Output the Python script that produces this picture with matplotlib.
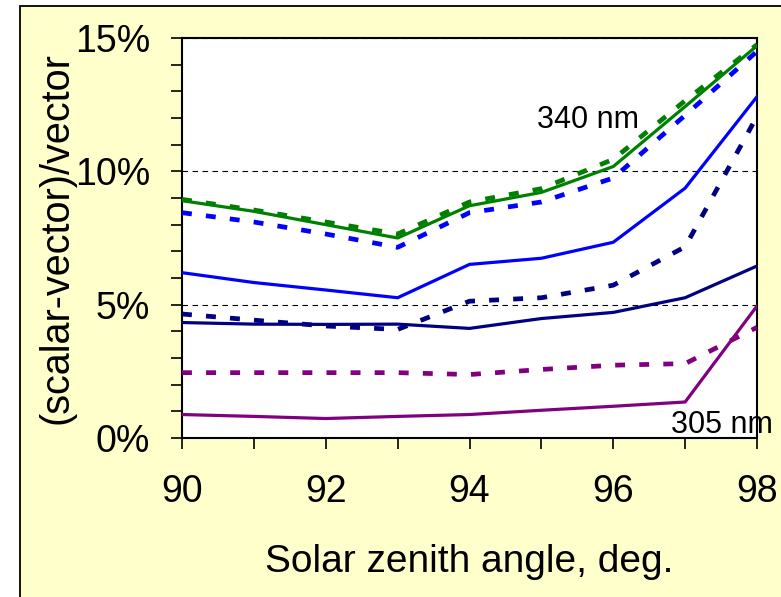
import matplotlib
matplotlib.use('Agg')
import matplotlib.pyplot as plt
from matplotlib.patches import Rectangle

plt.rcParams['font.family'] = ['Liberation Sans', 'DejaVu Sans']

# solar zenith angle (deg)
sza = [90, 91, 92, 93, 94, 95, 96, 97, 98]

# (scalar-vector)/vector in %, solid and dotted curve for each wavelength
green_solid = [8.9, 8.5, 8.0, 7.5, 8.71, 9.21, 10.18, 12.43, 14.71]
green_dot = [8.95, 8.55, 8.1, 7.65, 8.85, 9.35, 10.45, 12.65, 14.75]
blue_solid = [6.2, 5.83, 5.55, 5.26, 6.51, 6.74, 7.34, 9.37, 12.8]
blue_dot = [8.45, 8.1, 7.65, 7.15, 8.45, 8.85, 9.75, 12.1, 14.5]
navy_solid = [4.33, 4.27, 4.26, 4.27, 4.11, 4.48, 4.71, 5.26, 6.45]
navy_dot = [4.65, 4.42, 4.2, 4.07, 5.13, 5.26, 5.73, 7.17, 12.06]
purple_solid = [0.88, 0.81, 0.73, 0.81, 0.88, 1.04, 1.19, 1.35, 4.95]
purple_dot = [2.45, 2.45, 2.45, 2.45, 2.38, 2.57, 2.73, 2.79, 4.15]

x_ticks = [90, 92, 94, 96, 98]
x_tick_labels = ['90', '92', '94', '96', '98']
y_ticks = [0, 5, 10, 15]
y_tick_labels = ['0%', '5%', '10%', '15%']

fig = plt.figure(figsize=(7.81, 5.97), dpi=100)
fig.patch.set_facecolor('white')
# pale yellow panel with a black frame behind the axes
fig.patches.append(Rectangle((20/781, -0.02), 1.05, 1 - 6/597 + 0.02, transform=fig.transFigure,
                             facecolor='#FFFFCC', edgecolor='black', lw=1.3, zorder=-10))

ax = fig.add_axes([182/781, 1 - 438/597, 575/781, 400/597])
ax.set_facecolor('white')

dot = (0, (2.1, 3.0))
pairs = [(green_dot, green_solid, '#008000'),
         (blue_dot, blue_solid, '#0000FF'),
         (navy_dot, navy_solid, '#000080'),
         (purple_dot, purple_solid, '#800080')]
for d, s, c in pairs:
    ax.plot(sza, d, color=c, lw=3.4, linestyle=dot, solid_capstyle='butt', zorder=3)
    ax.plot(sza, s, color=c, lw=2.3, zorder=4)

ax.set_xlim(90, 98)
ax.set_ylim(0, 15)
ax.set_xticks(x_ticks)
ax.set_xticklabels(x_tick_labels)
ax.set_xticks(range(90, 99), minor=True)
ax.set_yticks(y_ticks)
ax.set_yticklabels(y_tick_labels)
ax.set_yticks(range(0, 16), minor=True)

ax.tick_params(axis='both', which='both', direction='out', length=8, width=1.2, labelsize=27)
ax.tick_params(axis='x', which='major', pad=18)
ax.tick_params(axis='y', which='major', pad=15)
for sp in ax.spines.values():
    sp.set_linewidth(1.5)
    sp.set_color('black')

# dashed lines at 5% and 10%
ax.yaxis.grid(True, which='major', color='black', lw=0.8, linestyle=(0, (5, 4)))
ax.set_axisbelow(True)

ax.set_xlabel('Solar zenith angle, deg.', fontsize=28)
ax.xaxis.set_label_coords(0.5, -0.265)
ax.set_ylabel('(scalar-vector)/vector', fontsize=28.5)
ax.yaxis.set_label_coords(-0.186, 0.5)

ax.text(94.94, 11.62, '340 nm', fontsize=22, va='baseline', ha='left', zorder=5)
ax.text(96.80, 0.19, '305 nm', fontsize=22, va='baseline', ha='left', zorder=5, clip_on=False)

fig.savefig('out.png', dpi=100)
